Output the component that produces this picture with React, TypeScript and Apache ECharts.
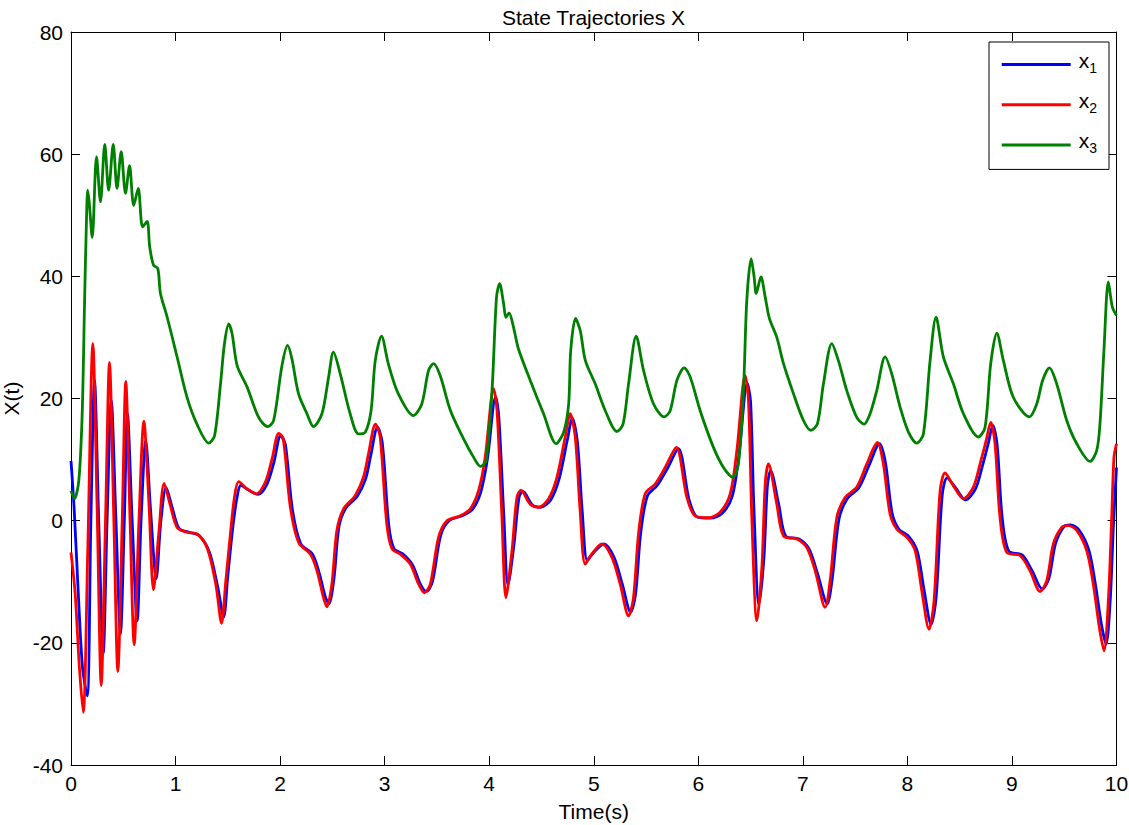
import React, { useEffect, useRef } from "react";
import * as echarts from "echarts";

// ---- data ----
const xTicks = [0, 1, 2, 3, 4, 5, 6, 7, 8, 9, 10];
const yTicks = [-40, -20, 0, 20, 40, 60, 80];

const x1Time = [
  0, 0.03, 0.07, 0.11, 0.155, 0.19, 0.225, 0.265, 0.308, 0.345, 0.385, 0.43, 0.473, 0.51, 0.54, 0.585, 0.633, 0.67,
  0.715, 0.76, 0.815, 0.86, 0.91, 0.97, 1.035, 1.13, 1.23, 1.325, 1.405, 1.46, 1.5, 1.545, 1.585, 1.625, 1.7, 1.79,
  1.875, 1.94, 2.005, 2.05, 2.118, 2.198, 2.31, 2.373, 2.435, 2.467, 2.515, 2.563, 2.626, 2.738, 2.817, 2.865, 2.932,
  2.977, 3.04, 3.09, 3.17, 3.265, 3.345, 3.4, 3.457, 3.536, 3.616, 3.743, 3.838, 3.918, 3.982, 4.062, 4.092, 4.14,
  4.18, 4.238, 4.285, 4.323, 4.412, 4.492, 4.588, 4.668, 4.747, 4.795, 4.843, 4.89, 4.938, 5.0, 5.098, 5.194, 5.273,
  5.353, 5.4, 5.448, 5.512, 5.608, 5.703, 5.809, 5.911, 5.99, 6.117, 6.229, 6.325, 6.389, 6.468, 6.5, 6.532, 6.58,
  6.628, 6.66, 6.691, 6.771, 6.835, 6.963, 7.058, 7.138, 7.233, 7.281, 7.345, 7.424, 7.536, 7.632, 7.733, 7.79, 7.854,
  7.919, 8.014, 8.094, 8.158, 8.227, 8.275, 8.333, 8.38, 8.46, 8.556, 8.651, 8.715, 8.773, 8.817, 8.858, 8.906, 8.97,
  9.097, 9.193, 9.289, 9.353, 9.416, 9.496, 9.559, 9.64, 9.735, 9.798, 9.856, 9.9, 9.94, 9.97, 10,
];
const x1Values = [
  9.8, 2, -12, -24, -28.7, 0, 23.0, 0, -21.8, 0, 19.7, 0, -18.5, 0, 17.5, 0, -16.4, 0,
  13.1, 2, -9.5, 0, 5.4, 2, -1.3, -1.9, -2.5, -5.2, -11, -15.8, -9, -1.5, 3.5, 5.8, 5.0, 4.3,
  6.0, 9.5, 13.9, 12.5, 1.8, -3.8, -5.5, -8.5, -12.6, -13.6, -9.5, -1.0, 2.0, 4.0, 6.8, 10.5, 15.3,
  12.8, -0.8, -4.6, -5.4, -7.2, -10.5, -11.6, -10, -2.4, 0, 0.8, 1.8, 4.6, 10, 20.3, 17, 0.8,
  -10.5, -3.8, 3.8, 4.8, 2.6, 2.2, 3.4, 6.8, 13.2, 16.8, 13.0, 1.5, -6.5, -5.2, -3.8, -6.0, -10.4,
  -15.0, -12, -2.2, 4.0, 5.8, 8.5, 11.8, 3.5, 0.6, 0.4, 1.2, 4.0, 10.8, 22.5, 19.5, 2, -13.7,
  -6, 5.5, 8.2, 2.5, -2.5, -3.0, -4.6, -8.5, -13.6, -9.5, 0.2, 3.6, 5.4, 9, 12.6, 9.5, 1.2,
  -1.4, -2.6, -5.0, -11.2, -17.0, -12.5, 4.2, 7.0, 5.4, 3.4, 5.2, 8.8, 12.6, 15.6, 12.5, 0.6, -5.0,
  -5.6, -8.2, -11.2, -9.5, -3.8, -1.0, -0.7, -1.5, -4.8, -10.4, -17, -20.2, -13, -1, 8.7,
];

const x2Time = [
  0, 0.04, 0.08, 0.117, 0.16, 0.209, 0.25, 0.289, 0.33, 0.368, 0.41, 0.448, 0.49, 0.524, 0.565, 0.604, 0.65, 0.697,
  0.745, 0.789, 0.84, 0.891, 0.95, 1.015, 1.11, 1.21, 1.305, 1.385, 1.44, 1.48, 1.525, 1.563, 1.604, 1.684, 1.773,
  1.859, 1.923, 1.987, 2.03, 2.098, 2.178, 2.29, 2.353, 2.415, 2.447, 2.495, 2.543, 2.606, 2.718, 2.797, 2.845, 2.912,
  2.957, 3.02, 3.07, 3.15, 3.245, 3.325, 3.38, 3.437, 3.516, 3.596, 3.723, 3.818, 3.898, 3.962, 4.042, 4.075, 4.122,
  4.16, 4.218, 4.265, 4.303, 4.392, 4.472, 4.568, 4.648, 4.727, 4.775, 4.823, 4.87, 4.918, 4.98, 5.078, 5.174, 5.253,
  5.333, 5.38, 5.428, 5.492, 5.588, 5.683, 5.789, 5.891, 5.97, 6.097, 6.209, 6.305, 6.369, 6.448, 6.48, 6.512, 6.56,
  6.608, 6.64, 6.671, 6.751, 6.815, 6.943, 7.038, 7.118, 7.213, 7.261, 7.325, 7.404, 7.516, 7.612, 7.713, 7.77, 7.834,
  7.899, 7.994, 8.074, 8.138, 8.207, 8.255, 8.313, 8.36, 8.44, 8.536, 8.631, 8.695, 8.753, 8.797, 8.838, 8.886, 8.95,
  9.077, 9.173, 9.269, 9.333, 9.396, 9.476, 9.539, 9.62, 9.715, 9.778, 9.836, 9.88, 9.922, 9.954, 9.976, 10,
];
const x2Values = [
  -5.2, -12, -24, -31.4, -5, 29.0, 2, -27.0, 0, 25.9, 0, -24.7, 0, 22.8, 0, -20.3, 0, 16.3,
  3, -11.3, -2, 6.1, 2.5, -1.1, -1.9, -2.2, -4.6, -10.4, -16.8, -10, -2.1, 3.8, 6.4, 5.2, 4.4,
  6.3, 10.1, 14.3, 13.4, 2.2, -3.6, -5.5, -8.2, -12.6, -14.1, -10.4, -1.6, 1.9, 4.1, 7.1, 10.9, 15.8,
  13.7, -0.5, -4.6, -5.5, -7.1, -10.4, -11.8, -10.4, -2.7, 0, 0.8, 1.9, 4.9, 10.4, 21.6, 18.0, 0.5,
  -12.6, -4.9, 3.8, 5.0, 2.7, 2.2, 3.6, 7.1, 13.7, 17.5, 13.7, 1.6, -7.1, -5.5, -3.8, -6.0, -10.4,
  -15.6, -12.6, -2.2, 4.4, 6.0, 8.7, 12.0, 3.8, 0.8, 0.5, 1.4, 4.4, 11.5, 23.8, 19.7, 0.5, -16.4,
  -7.7, 6.0, 9.3, 2.7, -2.5, -3.0, -4.4, -8.2, -14.2, -9.8, 0.5, 3.8, 5.5, 9.3, 12.8, 9.3, 1.1,
  -1.4, -2.7, -4.9, -11.5, -17.8, -13.1, 4.9, 7.8, 5.7, 3.6, 5.5, 9.3, 13.1, 16.1, 12.6, 0.5, -5.2,
  -5.7, -8.2, -11.6, -9.8, -3.8, -1.1, -0.8, -1.6, -4.9, -10.4, -17.5, -21.3, -13.1, 0.5, 10.4, 12.6,
];

const x3Time = [
  0, 0.033, 0.075, 0.107, 0.13, 0.148, 0.16, 0.175, 0.203, 0.244, 0.282, 0.323, 0.36, 0.404, 0.44, 0.48, 0.521, 0.56,
  0.6, 0.643, 0.685, 0.728, 0.753, 0.79, 0.83, 0.856, 0.92, 1.015, 1.11, 1.21, 1.318, 1.373, 1.43, 1.468, 1.509,
  1.541, 1.589, 1.684, 1.795, 1.881, 1.938, 2.018, 2.072, 2.113, 2.176, 2.257, 2.32, 2.4, 2.464, 2.51, 2.576, 2.67,
  2.75, 2.815, 2.87, 2.91, 2.97, 3.035, 3.13, 3.275, 3.355, 3.42, 3.468, 3.53, 3.63, 3.755, 3.85, 3.915, 3.97, 4.027,
  4.07, 4.1, 4.138, 4.16, 4.19, 4.232, 4.28, 4.392, 4.52, 4.641, 4.712, 4.76, 4.78, 4.826, 4.871, 4.92, 5.014, 5.11,
  5.222, 5.28, 5.333, 5.406, 5.476, 5.572, 5.674, 5.731, 5.796, 5.865, 5.923, 6.018, 6.145, 6.241, 6.33, 6.384, 6.432,
  6.464, 6.506, 6.534, 6.554, 6.599, 6.64, 6.68, 6.751, 6.815, 6.91, 7.006, 7.076, 7.14, 7.197, 7.277, 7.34, 7.42,
  7.516, 7.586, 7.643, 7.707, 7.787, 7.851, 7.93, 8.01, 8.09, 8.153, 8.217, 8.274, 8.344, 8.44, 8.536, 8.679, 8.743,
  8.797, 8.855, 8.918, 9.013, 9.167, 9.237, 9.294, 9.358, 9.428, 9.524, 9.62, 9.747, 9.811, 9.842, 9.88, 9.922, 9.96, 10,
];
const x3Values = [
  4.9, 3.6, 6.6, 17.5, 36, 49.2, 54.1, 52, 46.4, 59.6, 52.2, 61.6, 54.1, 61.6, 54.4, 60.4, 53.6, 58.1,
  51.6, 54.4, 48.1, 49.0, 44.8, 41.8, 41.3, 37.2, 33.3, 26.8, 20.2, 15.6, 12.7, 13.9, 22.4, 29.0, 32.2,
  30.6, 25.4, 21.9, 16.9, 15.4, 16.4, 25.4, 28.7, 26.5, 20.8, 17.5, 15.4, 17.5, 23.5, 27.6, 24.0, 17.5,
  14.2, 14.5, 18.0, 26.2, 30.2, 25.7, 20.8, 17.2, 19.1, 24.6, 25.7, 23.8, 18.0, 13.4, 10.4, 8.9, 9.8, 21.3,
  36.6, 38.8, 35.5, 33.3, 34.0, 31.7, 28.1, 23.0, 17.5, 12.6, 14.5, 19.1, 27.9, 33.1, 31.1, 26.2, 22.4, 18.0,
  14.6, 15.8, 22.4, 30.2, 24.6, 19.1, 17.0, 18.0, 23.0, 25.0, 23.5, 18.0, 12.0, 8.7, 7.1, 9.3, 21.3,
  36.1, 42.9, 39.9, 37.2, 39.9, 36.6, 33.1, 30.0, 25.7, 20.8, 16.4, 14.8, 15.9, 22.4, 29.0, 26.2, 21.3,
  16.9, 15.8, 17.5, 21.3, 26.8, 24.0, 18.6, 14.5, 12.7, 14.2, 26.2, 33.3, 26.8, 22.4, 17.5, 13.7, 15.3,
  25.7, 30.7, 26.2, 20.2, 17.0, 19.1, 23.0, 25.0, 22.4, 16.4, 12.6, 9.7, 11.5, 15.9, 27.9, 39.1, 35.0, 33.6,
];

const seriesNames = ["x1", "x2", "x3"];
const seriesColors = ["#0000ff", "#ff0000", "#008000"];

const FONT = "'Liberation Sans', Arial, sans-serif";

function zip(t: number[], v: number[]) {
  return t.map((tt, i) => [tt, v[i]]);
}

export default function App() {
  const ref = useRef<HTMLDivElement>(null);
  useEffect(() => {
    if (!ref.current) return;
    const chart = echarts.init(ref.current, undefined, { renderer: "svg" });
    const axisLine = { onZero: false, lineStyle: { color: "#000", width: 1 } };
    const axisTick = { inside: true, length: 9, lineStyle: { color: "#000", width: 1 } };
    const labelStyle = { fontSize: 21, color: "#000", fontFamily: FONT };
    const datasets = [zip(x1Time, x1Values), zip(x2Time, x2Values), zip(x3Time, x3Values)];
    chart.setOption({
      animation: false,
      backgroundColor: "#ffffff",
      textStyle: { fontFamily: FONT },
      title: {
        text: "State Trajectories X",
        left: 593.5,
        top: 7,
        textAlign: "center",
        padding: 0,
        textStyle: { fontSize: 21, fontWeight: "normal", color: "#000", fontFamily: FONT },
      },
      grid: {
        left: 71,
        right: 12.5,
        top: 32,
        bottom: 60,
        show: false,
        containLabel: false,
        outerBoundsMode: "none",
      },
      legend: {
        orient: "vertical",
        left: 989,
        top: 42,
        padding: [8, 12, 10, 12.7],
        itemGap: 11.2,
        itemWidth: 69,
        itemHeight: 3,
        icon: "rect",
        selectedMode: false,
        borderColor: "#000",
        borderWidth: 1,
        backgroundColor: "#fff",
        data: seriesNames,
        formatter: (name: string) => `{x|x}{s|${name.slice(1)}}`,
        textStyle: {
          color: "#000",
          fontFamily: FONT,
          rich: {
            x: { fontSize: 21, lineHeight: 20, padding: [0, 0, 8, 3], color: "#000", fontFamily: FONT },
            s: { fontSize: 14, lineHeight: 9, verticalAlign: "bottom", color: "#000", fontFamily: FONT },
          },
        },
      },
      xAxis: [
        {
          type: "value",
          min: xTicks[0],
          max: xTicks[xTicks.length - 1],
          interval: 1,
          position: "bottom",
          axisLine,
          axisTick,
          splitLine: { show: false },
          axisLabel: { ...labelStyle, margin: 7.5 },
          name: "Time(s)",
          nameLocation: "middle",
          nameGap: 36,
          nameTextStyle: labelStyle,
        },
        {
          type: "value",
          min: xTicks[0],
          max: xTicks[xTicks.length - 1],
          interval: 1,
          position: "top",
          axisLine,
          axisTick,
          splitLine: { show: false },
          axisLabel: { show: false },
        },
      ],
      yAxis: [
        {
          type: "value",
          min: yTicks[0],
          max: yTicks[yTicks.length - 1],
          interval: 20,
          position: "left",
          axisLine,
          axisTick,
          splitLine: { show: false },
          axisLabel: { ...labelStyle, margin: 8 },
          name: "X(t)",
          nameLocation: "middle",
          nameRotate: 90,
          nameGap: 46,
          nameTextStyle: labelStyle,
        },
        {
          type: "value",
          min: yTicks[0],
          max: yTicks[yTicks.length - 1],
          interval: 20,
          position: "right",
          axisLine,
          axisTick,
          splitLine: { show: false },
          axisLabel: { show: false },
        },
      ],
      series: seriesNames.map((name, i) => ({
        name,
        type: "line",
        xAxisIndex: 0,
        yAxisIndex: 0,
        data: datasets[i],
        symbol: "none",
        showSymbol: false,
        smooth: 0.3,
        color: seriesColors[i],
        lineStyle: { color: seriesColors[i], width: 2.8 },
        itemStyle: { color: seriesColors[i] },
        clip: true,
      })),
    });
    return () => chart.dispose();
  }, []);
  return (
    <div
      ref={ref}
      style={{ position: "fixed", left: 0, top: 0, width: 1129, height: 825, background: "#fff" }}
    />
  );
}
